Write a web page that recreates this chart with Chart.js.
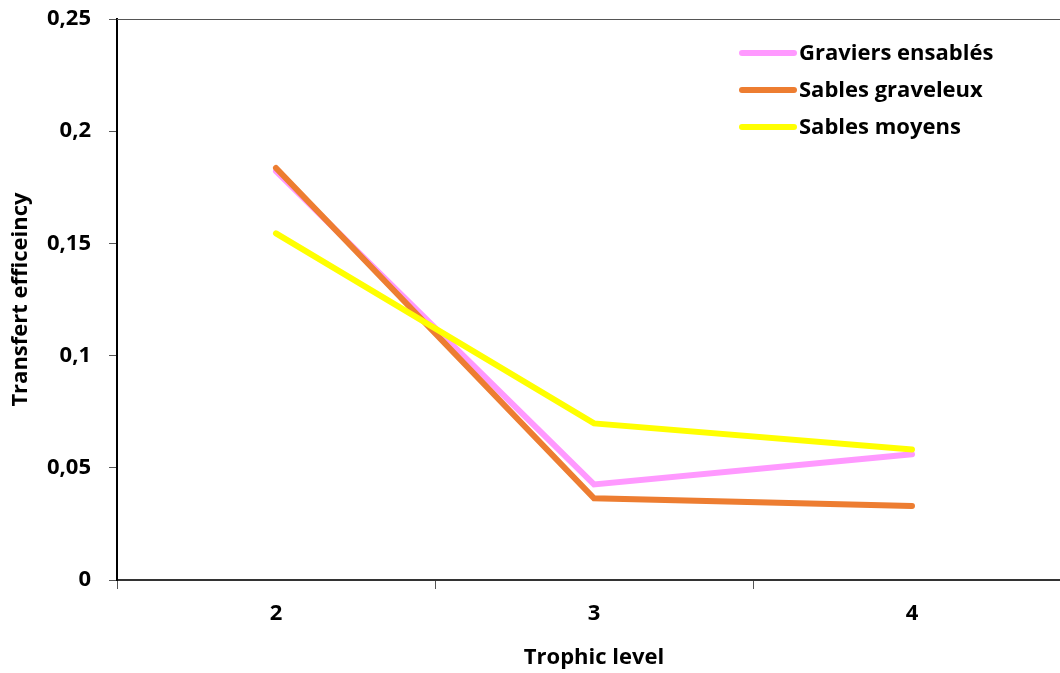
<!DOCTYPE html>
<html>
<head>
<meta charset="utf-8">
<script src="https://cdn.jsdelivr.net/npm/chart.js@4.4.0/dist/chart.umd.min.js"></script>
<style>
  html, body { margin: 0; padding: 0; background: #fff; overflow: hidden; }
  #wrap { width: 1076px; height: 673px; }
</style>
</head>
<body>
<div id="wrap"><canvas id="c" width="1076" height="673"></canvas></div>
<script>
const categories = ['2', '3', '4'];
const seriesNames = ['Graviers ensablés', 'Sables graveleux', 'Sables moyens'];
const graviersEnsables = [0.1822, 0.0426, 0.0560];
const sablesGraveleux = [0.1836, 0.0364, 0.0330];
const sablesMoyens = [0.1545, 0.0698, 0.0582];
const seriesColors = ['#FF99FF', '#ED7D31', '#FFFF00'];
const yTicks = [0, 0.05, 0.1, 0.15, 0.2, 0.25];

const FONT = '"Open Sans", "Noto Sans", sans-serif';
const FS = 22;

const topBorder = {
  id: 'topBorder',
  afterDraw(chart) {
    const {ctx, chartArea} = chart;
    ctx.save();
    ctx.strokeStyle = '#555';
    ctx.lineWidth = 1;
    ctx.beginPath();
    ctx.moveTo(chartArea.left, chartArea.top + 0.5);
    ctx.lineTo(chartArea.right, chartArea.top + 0.5);
    ctx.stroke();
    ctx.restore();
  }
};

const insideLegend = {
  id: 'insideLegend',
  afterDraw(chart) {
    const {ctx} = chart;
    ctx.save();
    const x0 = 742, x1 = 794, tx = 799;
    const ys = [53, 90, 127];
    chart.data.datasets.forEach((ds, i) => {
      ctx.strokeStyle = ds.borderColor;
      ctx.lineWidth = 6;
      ctx.lineCap = 'round';
      ctx.beginPath();
      ctx.moveTo(x0, ys[i]);
      ctx.lineTo(x1, ys[i]);
      ctx.stroke();
      ctx.fillStyle = '#000';
      ctx.font = 'bold ' + FS + 'px ' + FONT;
      ctx.textBaseline = 'middle';
      ctx.textAlign = 'left';
      ctx.fillText(ds.label, tx, ys[i] + 1);
    });
    ctx.restore();
  }
};

const allSeries = [graviersEnsables, sablesGraveleux, sablesMoyens];
const orders = [3, 2, 1];

new Chart(document.getElementById('c'), {
  type: 'line',
  data: {
    labels: categories,
    datasets: seriesNames.map((name, i) => ({
      label: name,
      data: allSeries[i],
      borderColor: seriesColors[i],
      backgroundColor: seriesColors[i],
      borderWidth: 6,
      pointRadius: 0,
      tension: 0,
      borderCapStyle: 'round',
      borderJoinStyle: 'miter',
      fill: false,
      order: orders[i]
    }))
  },
  options: {
    responsive: false,
    animation: false,
    devicePixelRatio: 1,
    layout: { padding: { top: 19, right: 5, left: 0, bottom: 0 } },
    plugins: {
      legend: { display: false },
      tooltip: { enabled: false }
    },
    scales: {
      x: {
        offset: true,
        grid: { offset: true, drawOnChartArea: false, tickLength: 9, color: '#555', lineWidth: 1 },
        border: { display: true, color: '#333', width: 2 },
        ticks: { color: '#000', font: { family: FONT, size: FS, weight: 'bold' }, padding: 12, maxRotation: 0 },
        title: { display: true, text: 'Trophic level', color: '#000', font: { family: FONT, size: FS, weight: 'bold' }, padding: { top: 0, bottom: 2 } },
        afterFit(scale) { scale.height = 93; scale.paddingLeft = 0; scale.paddingRight = 0; }
      },
      y: {
        min: 0,
        max: 0.25,
        afterBuildTicks(scale) { scale.ticks = yTicks.map(v => ({ value: v })); },
        grid: { drawOnChartArea: false, tickLength: 8, color: '#555', lineWidth: 1 },
        border: { display: true, color: '#000', width: 2 },
        ticks: {
          color: '#000',
          font: { family: FONT, size: FS, weight: 'bold' },
          padding: 18,
          callback: (v) => String(Math.round(v * 100) / 100).replace('.', ',')
        },
        title: { display: true, text: 'Transfert efficeincy', color: '#000', font: { family: FONT, size: FS, weight: 'bold' }, padding: { top: 8, bottom: 0 } },
        afterFit(scale) { scale.width = 117; scale.paddingTop = 0; scale.paddingBottom = 0; }
      }
    }
  },
  plugins: [topBorder, insideLegend]
});
</script>
</body>
</html>
